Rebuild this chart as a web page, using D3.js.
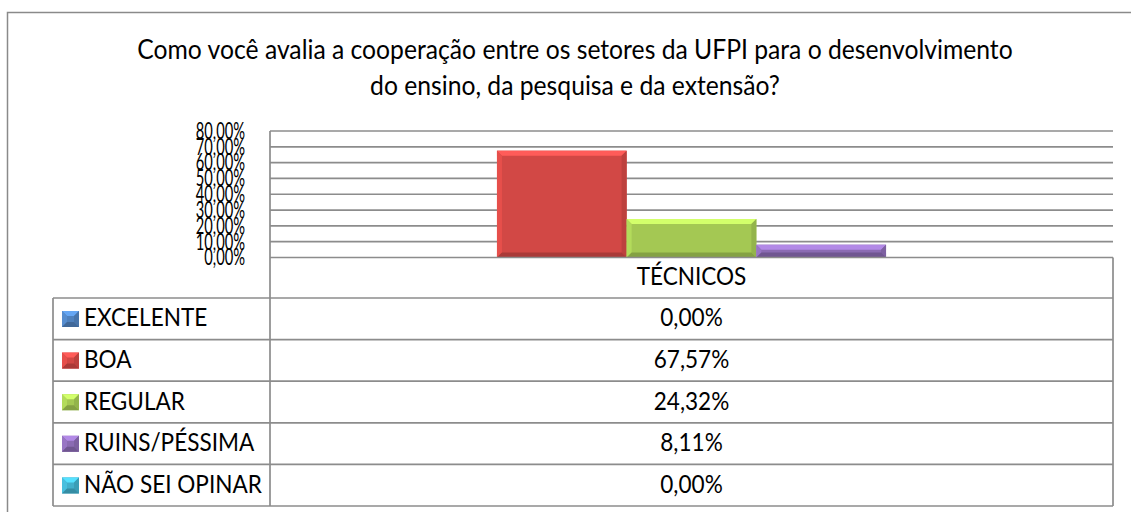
<!DOCTYPE html>
<html>
<head>
<meta charset="utf-8">
<script src="https://cdn.jsdelivr.net/npm/d3@7"></script>
<style>
  html, body { margin: 0; padding: 0; background: #fff; }
  svg { display: block; font-family: Lato, "Noto Sans", sans-serif; }
</style>
</head>
<body>
<svg id="chart" width="1131" height="512"></svg>
<script>
// ---- data ----
const titleLines = ["Como você avalia a cooperação entre os setores da UFPI para o desenvolvimento",
                    "do ensino, da pesquisa e da extensão?"];
const categories = ["TÉCNICOS"];
const seriesNames = ["EXCELENTE", "BOA", "REGULAR", "RUINS/PÉSSIMA", "NÃO SEI OPINAR"];
const seriesValues = [0.0000, 0.6757, 0.2432, 0.0811, 0.0000];
const seriesColors = ["#4F81BD", "#D24845", "#A4C853", "#8B6BB3", "#42AFCB"];
const yTicks = [0, 0.1, 0.2, 0.3, 0.4, 0.5, 0.6, 0.7, 0.8];

// ---- layout ----
const svg = d3.select("#chart");
const L = 270, R = 1113, T = 131, B = 257.5;
const tableLeft = 53, headerBottom = 298, rowH = 41.6;
const gridColor = "#8c8c8c";

const fmt = v => d3.format(".2f")(v * 100).replace(".", ",") + "%";

const y = d3.scaleLinear().domain([0, 0.8]).range([B, T]);
const x0 = d3.scaleBand().domain(categories).range([L, R]).paddingOuter(0.15).paddingInner(0);
const x1 = d3.scaleBand().domain(seriesNames).range([0, x0.bandwidth()]).padding(0);

// outer border
svg.append("path")
  .attr("d", `M1140,12.5 H7.5 V520`)
  .attr("fill", "none").attr("stroke", "#8a8a8a").attr("stroke-width", 1.5);

function fitSize(sel, target) {
  const w = sel.node().getComputedTextLength();
  const fs = parseFloat(sel.attr("font-size"));
  return fs * target / w;
}
function vStretch(sel, k) {
  sel.each(function() {
    const t = d3.select(this);
    const yy = +t.attr("y");
    t.attr("transform", `translate(0,${yy}) scale(1,${k}) translate(0,${-yy})`);
  });
}

// title
const titleG = svg.append("g");
titleLines.forEach((t, i) => {
  titleG.append("text").attr("x", 575).attr("y", 59 + i * 36)
    .attr("text-anchor", "middle").attr("font-size", 20).attr("fill", "#000").text(t);
});
const tfs = fitSize(titleG.select("text"), 876);
titleG.selectAll("text").attr("font-size", tfs);
vStretch(titleG.selectAll("text"), 1.08);

// gridlines
svg.append("g").selectAll("line").data(yTicks.filter(d => d > 0)).join("line")
  .attr("x1", L).attr("x2", R).attr("y1", d => y(d)).attr("y2", d => y(d))
  .attr("stroke", gridColor).attr("stroke-width", 1.7);

// y axis labels
const yAxis = svg.append("g").attr("transform", `translate(${L},0)`)
  .call(d3.axisLeft(y).tickValues(yTicks).tickFormat(fmt).tickSize(0).tickPadding(25));
yAxis.select(".domain").remove();
const xsc = 0.64;
yAxis.selectAll("text").attr("font-size", 23).attr("fill", "#000")
  .attr("font-family", "Lato, 'Noto Sans', sans-serif")
  .attr("x", -25 / xsc)
  .attr("transform", `scale(${xsc},1)`);

// bars with bevel
function bevel(g, x, yy, w, h, c) {
  if (h <= 0) return;
  const b = Math.min(5, h / 2, w / 2);
  const col = d3.color(c);
  g.append("rect").attr("x", x).attr("y", yy).attr("width", w).attr("height", h).attr("fill", col);
  const poly = (pts, fill) => g.append("polygon").attr("points", pts.map(p => p.join(",")).join(" ")).attr("fill", fill);
  poly([[x, yy], [x + w, yy], [x + w - b, yy + b], [x + b, yy + b]], col.brighter(0.7));
  poly([[x, yy], [x + b, yy + b], [x + b, yy + h - b], [x, yy + h]], col.brighter(0.25));
  poly([[x + w, yy], [x + w, yy + h], [x + w - b, yy + h - b], [x + w - b, yy + b]], col.darker(0.3));
  poly([[x, yy + h], [x + w, yy + h], [x + w - b, yy + h - b], [x + b, yy + h - b]], col.darker(0.6));
}
const barsG = svg.append("g");
categories.forEach(cat => {
  seriesNames.forEach((s, i) => {
    const v = seriesValues[i];
    const bx = x0(cat) + x1(s);
    bevel(barsG, bx, y(v), x1.bandwidth(), y(0) - y(v), seriesColors[i]);
  });
});

// data table
const tg = svg.append("g");
const rowTops = seriesNames.map((s, i) => headerBottom + i * rowH);
const tableBottom = headerBottom + seriesNames.length * rowH;
const line = (x1_, y1_, x2_, y2_) => tg.append("line").attr("x1", x1_).attr("y1", y1_).attr("x2", x2_).attr("y2", y2_)
  .attr("stroke", gridColor).attr("stroke-width", 1.7);
line(L, B, R, B);
rowTops.forEach(t => line(tableLeft, t, R, t));
line(tableLeft, tableBottom, R, tableBottom);
line(L, T, L, tableBottom);
line(tableLeft, headerBottom, tableLeft, tableBottom);
line(R, B, R, tableBottom);

// header
const hdr = tg.append("text").attr("x", x0(categories[0]) + x0.bandwidth() / 2).attr("y", B + 28)
  .attr("text-anchor", "middle").attr("font-size", 20).attr("fill", "#000").text(categories[0]);

// legend rows
const legG = tg.append("g");
seriesNames.forEach((s, i) => {
  const top = rowTops[i];
  bevel(legG, 62, top + 13, 17, 16, seriesColors[i]);
  legG.append("text").attr("class", "lt").attr("x", 84).attr("y", top + 28.5)
    .attr("font-size", 20).attr("fill", "#000").text(s);
  legG.append("text").attr("class", "vt").attr("x", x0(categories[0]) + x0.bandwidth() / 2).attr("y", top + 28.5)
    .attr("text-anchor", "middle").attr("font-size", 20).attr("fill", "#000").text(fmt(seriesValues[i]));
});
const lfs = fitSize(legG.selectAll("text.lt").filter((d, i) => i === 4), 178);
legG.selectAll("text").attr("font-size", lfs);
hdr.attr("font-size", lfs);
vStretch(legG.selectAll("text"), 1.1);
vStretch(hdr, 1.1);
</script>
</body>
</html>
